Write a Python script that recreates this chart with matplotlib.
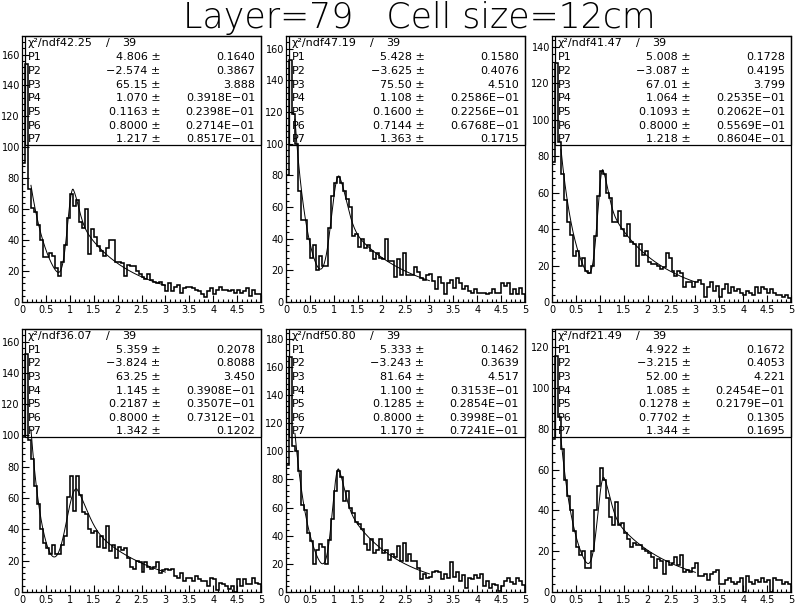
import numpy as np
import matplotlib
matplotlib.use("Agg")
import matplotlib.pyplot as plt
from matplotlib import font_manager
from matplotlib.font_manager import FontProperties
from matplotlib.patches import Rectangle
from matplotlib.ticker import MultipleLocator

title = "Layer=79   Cell size=12cm"
edges = np.linspace(0.0, 5.0, 81)
fit_lo, fit_hi = 0.1875, 3.0

chi2 = ["42.25", "47.19", "41.47", "36.07", "50.80", "21.49"]
ndf = ["39", "39", "39", "39", "39", "39"]

par_txt = [
    ["4.806", "\u22122.574", "65.15", "1.070", "0.1163", "0.8000", "1.217"],
    ["5.428", "\u22123.625", "75.50", "1.108", "0.1600", "0.7144", "1.363"],
    ["5.008", "\u22123.087", "67.01", "1.064", "0.1093", "0.8000", "1.218"],
    ["5.359", "\u22123.824", "63.25", "1.145", "0.2187", "0.8000", "1.342"],
    ["5.333", "\u22123.243", "81.64", "1.100", "0.1285", "0.8000", "1.170"],
    ["4.922", "\u22123.215", "52.00", "1.085", "0.1278", "0.7702", "1.344"],
]
err_txt = [
    ["0.1640", "0.3867", "3.888", "0.3918E\u221201", "0.2398E\u221201", "0.2714E\u221201", "0.8517E\u221201"],
    ["0.1580", "0.4076", "4.510", "0.2586E\u221201", "0.2256E\u221201", "0.6768E\u221201", "0.1715"],
    ["0.1728", "0.4195", "3.799", "0.2535E\u221201", "0.2062E\u221201", "0.5569E\u221201", "0.8604E\u221201"],
    ["0.2078", "0.8088", "3.450", "0.3908E\u221201", "0.3507E\u221201", "0.7312E\u221201", "0.1202"],
    ["0.1462", "0.3639", "4.517", "0.3153E\u221201", "0.2854E\u221201", "0.3998E\u221201", "0.7241E\u221201"],
    ["0.1672", "0.4053", "4.221", "0.2454E\u221201", "0.2179E\u221201", "0.1305", "0.1695"],
]

counts_1 = [90, 154, 73, 61, 58, 50, 40, 29, 29, 32, 30, 22, 17, 26, 37, 54,
            70, 62, 66, 52, 48, 60, 31, 47, 42, 36, 33, 30, 35, 40, 40, 26,
            26, 25, 17, 24, 23, 23, 20, 18, 16, 15, 18, 14, 13, 12, 13, 11,
            7, 12, 7, 10, 11, 6, 9, 10, 10, 9, 8, 7, 5, 3, 7, 9,
            5, 8, 10, 8, 8, 7, 8, 6, 8, 6, 7, 9, 4, 8, 5, 5]
counts_2 = [80, 153, 119, 100, 70, 52, 52, 40, 28, 36, 20, 29, 23, 23, 47, 67,
            75, 79, 75, 70, 65, 60, 42, 43, 35, 40, 34, 36, 32, 27, 31, 28,
            27, 40, 26, 26, 16, 27, 17, 31, 17, 17, 17, 22, 19, 15, 14, 17,
            18, 13, 8, 16, 12, 5, 12, 14, 9, 15, 12, 8, 10, 7, 6, 8,
            6, 6, 6, 5, 6, 8, 6, 6, 12, 10, 12, 5, 8, 5, 9, 5]
counts_3 = [77, 131, 88, 70, 56, 44, 37, 25, 28, 20, 24, 17, 16, 20, 36, 58,
            72, 70, 60, 57, 44, 44, 50, 40, 36, 43, 33, 32, 20, 32, 26, 28,
            22, 21, 21, 20, 18, 19, 27, 24, 17, 14, 17, 16, 8, 11, 11, 8,
            11, 12, 10, 3, 8, 11, 6, 9, 3, 7, 10, 5, 8, 6, 7, 5,
            4, 6, 5, 4, 8, 5, 8, 7, 5, 7, 5, 4, 4, 3, 4, 2]
counts_4 = [99, 152, 97, 85, 68, 56, 40, 31, 28, 24, 30, 24, 24, 30, 36, 61,
            74, 52, 74, 62, 51, 50, 40, 38, 39, 29, 36, 28, 42, 26, 30, 22,
            29, 27, 28, 22, 16, 15, 20, 19, 13, 19, 16, 15, 16, 19, 12, 14,
            15, 14, 15, 10, 9, 12, 7, 9, 9, 7, 10, 8, 7, 7, 4, 9,
            8, 1, 6, 5, 4, 2, 4, 0, 8, 4, 8, 5, 5, 9, 6, 5]
counts_5 = [90, 167, 104, 100, 86, 62, 58, 42, 36, 20, 30, 34, 32, 20, 37, 52,
            72, 86, 82, 65, 72, 60, 56, 50, 48, 45, 34, 30, 38, 28, 30, 38,
            28, 30, 23, 27, 25, 33, 22, 35, 22, 27, 22, 22, 17, 9, 13, 10,
            11, 14, 15, 14, 9, 13, 10, 21, 11, 14, 8, 12, 3, 10, 9, 12,
            10, 13, 4, 8, 3, 6, 5, 1, 4, 8, 10, 7, 6, 10, 8, 5]
counts_6 = [75, 116, 86, 70, 55, 47, 40, 30, 22, 18, 20, 12, 12, 20, 40, 52,
            61, 55, 46, 37, 33, 44, 33, 34, 29, 26, 22, 24, 23, 23, 21, 20,
            19, 17, 12, 16, 15, 9, 15, 13, 14, 17, 13, 18, 10, 11, 10, 12,
            14, 8, 8, 9, 6, 9, 10, 11, 4, 4, 6, 7, 5, 4, 5, 7,
            0, 8, 5, 4, 6, 5, 7, 5, 6, 0, 7, 6, 6, 4, 5, 4]
counts = [counts_1, counts_2, counts_3, counts_4, counts_5, counts_6]

y_top = [172, 168, 146, 168, 187, 129]

# axes frames in pixels: left edges, width, (top, bottom) per row
W, H = 796, 609
col_x = [22, 286, 552]
ax_w = 239
row_y = [(36, 302), (329, 592)]


def fit_curve(x, p):
    # exponential background + peak with gaussian core and exponential tail
    p1, p2, p3, p4, p5, p6, p7 = p
    g = np.exp(-0.5 * ((x - p4) / p5) ** 2)
    tail = p6 * np.exp(-(x - p4) / p7) + (1 - p6) * g
    sig = np.where(x < p4, g, tail)
    return np.exp(p1 + p2 * x) + p3 * sig


def light_font():
    wanted = ["DejaVu Sans", "Roboto", "Lato", "Inter", "Open Sans", "Noto Sans"]
    best = None
    for nm in wanted:
        for f in font_manager.fontManager.ttflist:
            w = f.weight
            if isinstance(w, str):
                w = font_manager.weight_dict.get(w, 400)
            if f.name == nm and w <= 300 and f.style == "normal":
                if best is None or w > best[0]:
                    best = (w, f.fname)
        if best is not None:
            return best[1]
    return None


fig = plt.figure(figsize=(W / 100, H / 100), dpi=100)

for k in range(6):
    r, c = divmod(k, 3)
    top, bot = row_y[r]
    x0 = col_x[c]
    ax = fig.add_axes([x0 / W, 1 - bot / H, ax_w / W, (bot - top) / H])
    ax.stairs(counts[k], edges, color="black", lw=1.15, baseline=0)
    p = [float(s.replace("\u2212", "-")) for s in par_txt[k]]
    xs = np.linspace(fit_lo, fit_hi, 400)
    ax.plot(xs, fit_curve(xs, p), color="black", lw=0.7)

    ax.set_xlim(0, 5)
    ax.set_ylim(0, y_top[k])
    ax.xaxis.set_minor_locator(MultipleLocator(0.1))
    ax.yaxis.set_major_locator(MultipleLocator(20))
    ax.yaxis.set_minor_locator(MultipleLocator(4))
    ax.set_xticks(np.arange(0, 5.01, 0.5))
    ax.set_xticklabels(["0", "0.5", "1", "1.5", "2", "2.5", "3", "3.5", "4", "4.5", "5"])
    ax.tick_params(which="both", direction="in", top=False, right=False,
                   width=0.8, labelsize=7)
    ax.tick_params(which="major", length=5)
    ax.tick_params(which="minor", length=2.5)
    ax.tick_params(axis="y", pad=1.5)
    ax.tick_params(axis="x", pad=2)
    for s in ax.spines.values():
        s.set_linewidth(0.9)

    # statistics box
    bx0, by0 = 0.012, 0.59
    ax.add_patch(Rectangle((bx0, by0), 1 - bx0, 1 - by0, transform=ax.transAxes,
                           fill=False, lw=0.9, color="black", clip_on=False))
    fs = 8
    ys = [0.972 - i * 0.0515 for i in range(8)]
    tx = bx0 + 0.012
    ax.text(tx, ys[0], "\u03c7\u00b2/ndf" + chi2[k], transform=ax.transAxes,
            fontsize=fs, va="center", ha="left")
    ax.text(0.35, ys[0], "/", transform=ax.transAxes, fontsize=fs, va="center", ha="left")
    ax.text(0.42, ys[0], ndf[k], transform=ax.transAxes, fontsize=fs, va="center", ha="left")
    for i in range(7):
        y = ys[i + 1]
        ax.text(tx, y, "P%d" % (i + 1), transform=ax.transAxes, fontsize=fs,
                va="center", ha="left")
        ax.text(0.58, y, par_txt[k][i] + " \u00b1", transform=ax.transAxes,
                fontsize=fs, va="center", ha="right")
        ax.text(0.975, y, err_txt[k][i], transform=ax.transAxes, fontsize=fs,
                va="center", ha="right")

fpath = light_font()
if fpath:
    tprop = FontProperties(fname=fpath, size=25)
else:
    tprop = FontProperties(family="DejaVu Sans", size=25)
fig.text(419 / W, 1 - 28 / H, title, ha="center", va="baseline", fontproperties=tprop)

fig.savefig("out.png", dpi=100)
